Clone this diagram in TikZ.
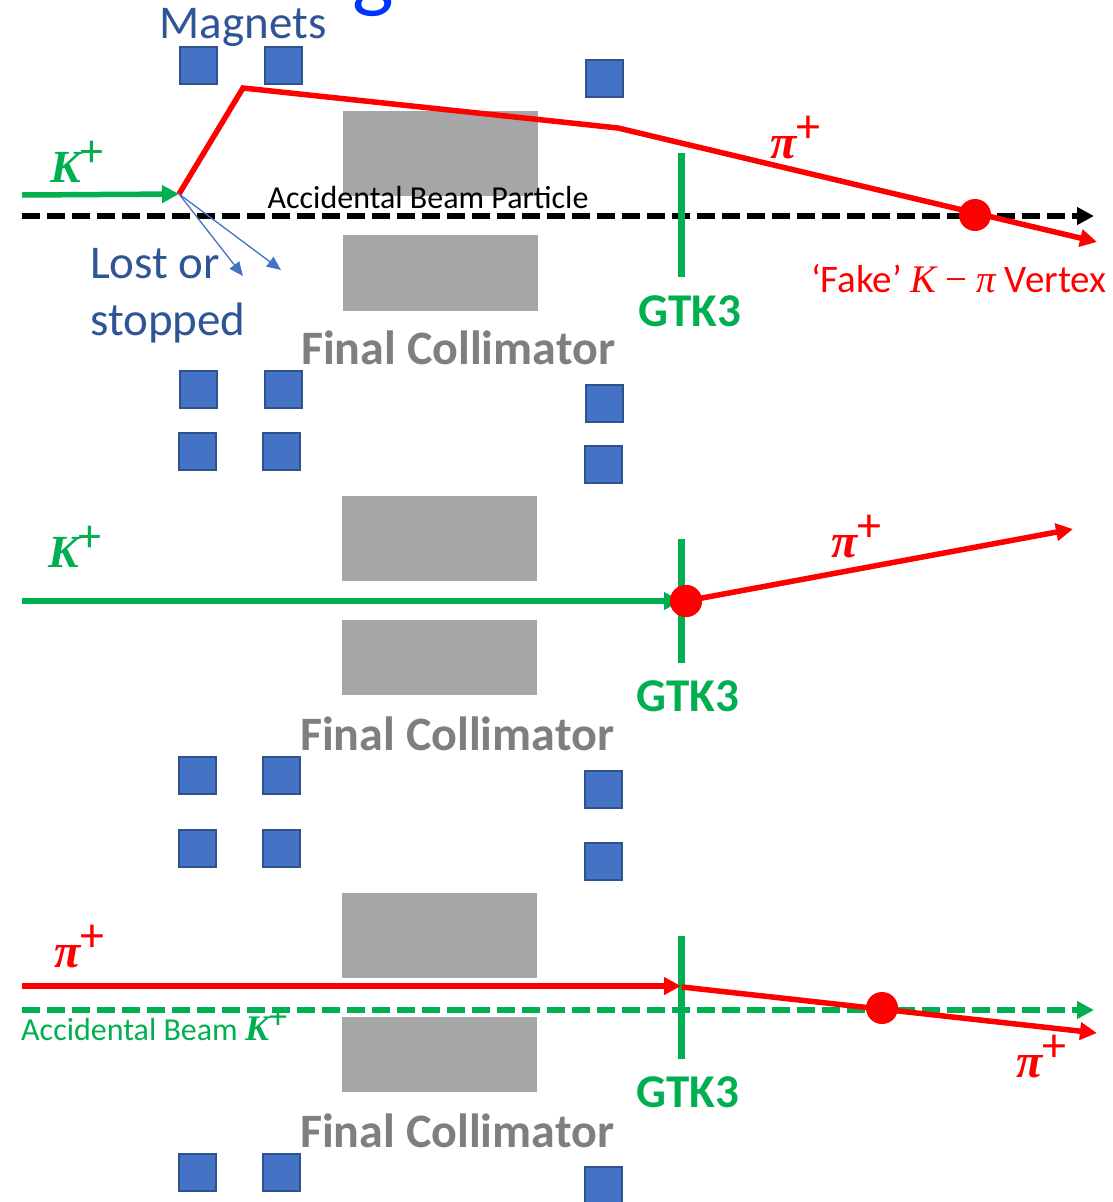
\documentclass[tikz,border=0pt]{standalone}
\usepackage{fontspec}
\setmainfont{Carlito}
\newfontfamily\mfont{Liberation Serif}
\usetikzlibrary{arrows.meta}
\definecolor{kgreen}{HTML}{00B050}
\definecolor{pred}{HTML}{FF0000}
\definecolor{magfill}{HTML}{4472C4}
\definecolor{magdraw}{HTML}{2F528F}
\definecolor{colgray}{HTML}{A6A6A6}
\definecolor{txtgray}{HTML}{7F7F7F}
\definecolor{txtblue}{HTML}{2F5597}
\definecolor{titleblue}{HTML}{0033FF}
\newcommand{\supplus}{\raisebox{0.33em}{\normalfont\mdseries\upshape +}}
\newcommand{\Kplus}{{\mfont\bfseries\itshape K}\supplus}
\newcommand{\Piplus}{{\mfont\bfseries\itshape π}\supplus}
\begin{document}
\begin{tikzpicture}[x=1pt,y=-1pt,
  magnet/.style={rectangle, fill=magfill, draw=magdraw, line width=2pt, minimum size=37pt, inner sep=0pt},
  block/.style={fill=colgray},
  tipbig/.style={-{Triangle[length=17pt,width=17pt]}},
  redtrack/.style={draw=pred, line width=5.5pt},
  greentrack/.style={draw=kgreen, line width=5.5pt},
  beamline/.style={line width=5.5pt, dash pattern=on 18pt off 7pt},
  gtkplane/.style={draw=kgreen, line width=7pt},
  lostarrow/.style={draw=magfill, line width=1.3pt, -{Triangle[length=14pt,width=12pt]}},
  vtx/.style={circle, fill=pred, minimum size=32pt, inner sep=0pt},
  lbl/.style={inner sep=0pt, anchor=base},
  collabel/.style={lbl, text=txtgray, font=\fontsize{48}{56}\selectfont\bfseries},
  gtklabel/.style={lbl, text=kgreen, font=\fontsize{47}{54}\selectfont\bfseries},
  partlabel/.style={lbl, anchor=base west, font=\fontsize{46}{52}\selectfont},
  pilabel/.style={lbl, anchor=base west, text=pred, font=\fontsize{48}{54}\selectfont},
  bluetext/.style={lbl, anchor=base west, text=txtblue, font=\fontsize{47}{54}\selectfont}
]
\useasboundingbox (0,0) rectangle (1112,1202);
\fill[white] (0,0) rectangle (1112,1202);

% title fragment (cut off at the top edge, as in the reference)
\node[inner sep=0pt, anchor=base west, text=titleblue, font=\fontsize{88}{88}\selectfont] (titleg) at (352,1) {g};

% ---------------- Panel 1 ----------------
\node[magnet] (m1a) at (198.5,65.5) {};
\node[magnet] (m1b) at (283,65.5) {};
\node[magnet] (m1c) at (604.5,78.5) {};
\node[magnet] (m1d) at (198,389.5) {};
\node[magnet] (m1e) at (283,389.5) {};
\node[magnet] (m1f) at (604.5,403) {};
\node[magnet] (m1g) at (197,451) {};
\node[magnet] (m1h) at (281.5,451) {};
\node[magnet] (m1i) at (603,464.5) {};
\fill[block] (343,111) rectangle (538,196);
\fill[block] (343,235) rectangle (538,311);

\node[lbl, text=txtblue, font=\fontsize{47}{54}\selectfont] (magnets) at (243,38) {Magnets};
\node[bluetext] (lost) at (90,278) {Lost or};
\node[bluetext] (stopped) at (90,335) {stopped};
\node[collabel] (fc1) at (458,364) {Final Collimator};
\node[lbl, font=\fontsize{32}{38}\selectfont] (abp) at (428,208) {Accidental Beam Particle};

\coordinate (k1s) at (22,195);
\coordinate (k1v) at (179,194);
\coordinate (bend1) at (243,88);
\coordinate (bend2) at (618,128);
\coordinate (p1end) at (1097,242);
\coordinate (b1s) at (22,216);
\coordinate (b1e) at (1094,216);
\coordinate (lost1) at (243,276);
\coordinate (lost2) at (281,270);
\coordinate (g1t) at (681,153);
\coordinate (g1b) at (681,277);

\draw[beamline, tipbig] (b1s) -- (b1e);
\draw[gtkplane] (g1t) -- (g1b);
\draw[greentrack, tipbig] (k1s) -- (k1v);
\draw[redtrack, tipbig] (k1v) -- (bend1) -- (bend2) -- (p1end);
\draw[lostarrow] (k1v) -- (lost1);
\draw[lostarrow] (k1v) -- (lost2);
\node[vtx] (p1dot) at (975,215) {};

\node[partlabel, text=kgreen] (k1lbl) at (50,182) {\Kplus};
\node[pilabel] (pi1lbl) at (770,158) {\Piplus};
\node[gtklabel] (gtk1) at (690,326) {GTK3};
\node[lbl, anchor=base west, text=pred, font=\fontsize{39}{46}\selectfont] (fake) at (811,292) {‘Fake’ {\mfont\itshape K} {\mfont −} {\mfont\itshape π} Vertex};

% ---------------- Panel 2 ----------------
\fill[block] (342,496) rectangle (537,581);
\fill[block] (342,620) rectangle (537,695);
\node[magnet] (m2a) at (197,775) {};
\node[magnet] (m2b) at (281.5,775) {};
\node[magnet] (m2c) at (603,789) {};
\node[magnet] (m2d) at (197,848) {};
\node[magnet] (m2e) at (281.5,848) {};
\node[magnet] (m2f) at (603,861) {};
\node[collabel] (fc2) at (457,750) {Final Collimator};

\coordinate (k2s) at (22,601);
\coordinate (k2e) at (681,601);
\coordinate (p2end) at (1073,529);
\coordinate (g2t) at (681,539);
\coordinate (g2b) at (681,663);
\draw[gtkplane] (g2t) -- (g2b);
\draw[greentrack, tipbig] (k2s) -- (k2e);
\node[vtx] (p2dot) at (686,601) {};
\draw[redtrack, tipbig] (p2dot.center) -- (p2end);
\node[vtx] at (p2dot) {};

\node[partlabel, text=kgreen] (k2lbl) at (48,567) {\Kplus};
\node[pilabel] (pi2lbl) at (831,557) {\Piplus};
\node[gtklabel] (gtk2) at (688,711) {GTK3};

% ---------------- Panel 3 ----------------
\fill[block] (342,893) rectangle (537,978);
\fill[block] (342,1017) rectangle (537,1092);
\node[magnet] (m3a) at (197,1172) {};
\node[magnet] (m3b) at (281.5,1172) {};
\node[magnet] (m3c) at (603,1185) {};
\node[collabel] (fc3) at (457,1147) {Final Collimator};

\coordinate (p3s) at (22,986);
\coordinate (p3k) at (681,986);
\coordinate (p3k2) at (682,987);
\coordinate (p3end) at (1097,1033);
\coordinate (b3s) at (22,1010);
\coordinate (b3e) at (1094,1010);
\coordinate (g3t) at (681,936);
\coordinate (g3b) at (681,1059);
\draw[beamline, draw=kgreen, -{Triangle[length=17pt,width=17pt]}] (b3s) -- (b3e);
\draw[gtkplane] (g3t) -- (g3b);
\draw[redtrack, tipbig] (p3s) -- (p3k);
\draw[redtrack, tipbig] (p3k2) -- (p3end);
\node[vtx] (p3dot) at (882,1008) {};

\node[pilabel] (pi3lbl) at (54,967) {\Piplus};
\node[pilabel] (pi4lbl) at (1016,1077) {\Piplus};
\node[lbl, anchor=base west, text=kgreen, font=\fontsize{32}{38}\selectfont] (abk) at (21,1040) {Accidental Beam {\fontsize{36}{40}\selectfont\Kplus}};
\node[gtklabel] (gtk3) at (688,1107) {GTK3};
\end{tikzpicture}
\end{document}
